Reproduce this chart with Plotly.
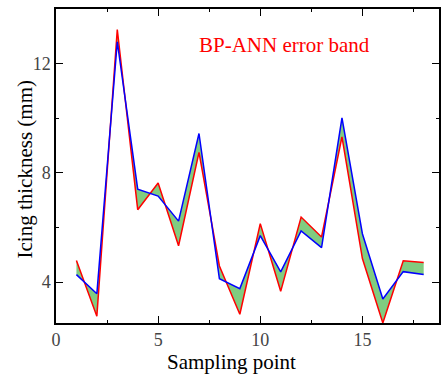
import plotly.graph_objects as go

sampling_points = list(range(1, 19))
measured = [4.79, 2.75, 13.25, 6.65, 7.63, 5.33, 8.75, 4.59, 2.82, 6.14, 3.66, 6.38, 5.65, 9.32, 4.86, 2.5, 4.78, 4.72]
predicted = [4.27, 3.57, 12.8, 7.4, 7.15, 6.23, 9.44, 4.12, 3.76, 5.70, 4.37, 5.87, 5.26, 10.01, 5.77, 3.38, 4.38, 4.28]

x_ticks = [0, 5, 10, 15]
y_ticks = [4, 8, 12]

font_family = "'Liberation Serif', 'Times New Roman', 'DejaVu Serif', serif"

fig = go.Figure()
# error band fill
fig.add_trace(go.Scatter(x=sampling_points, y=measured, mode="lines",
                         line=dict(width=0, color="rgba(0,0,0,0)"), showlegend=False, hoverinfo="skip"))
fig.add_trace(go.Scatter(x=sampling_points, y=predicted, mode="lines", fill="tonexty",
                         fillcolor="rgb(128,204,128)",
                         line=dict(width=0, color="rgba(0,0,0,0)"), showlegend=False, hoverinfo="skip"))
# lines
fig.add_trace(go.Scatter(x=sampling_points, y=measured, mode="lines",
                         line=dict(color="rgb(255,0,0)", width=1.5), showlegend=False))
fig.add_trace(go.Scatter(x=sampling_points, y=predicted, mode="lines",
                         line=dict(color="rgb(0,0,255)", width=1.5), showlegend=False))

fig.add_annotation(x=11.17, y=12.68, xref="x", yref="y", text="BP-ANN error band",
                   showarrow=False, font=dict(family=font_family, size=21, color="rgb(255,0,0)"),
                   xanchor="center", yanchor="middle")

# axis titles placed as annotations
fig.add_annotation(x=-0.08, y=0.49, xref="paper", yref="paper", text="Icing thickness (mm)",
                   showarrow=False, textangle=-90,
                   font=dict(family=font_family, size=21, color="black"),
                   xanchor="center", yanchor="middle")
fig.add_annotation(x=0.457, y=-0.124, xref="paper", yref="paper", text="Sampling point",
                   showarrow=False,
                   font=dict(family=font_family, size=21, color="black"),
                   xanchor="center", yanchor="middle")

axis_common = dict(
    showline=True, linecolor="black", linewidth=1.5, mirror="ticks",
    ticks="inside", ticklen=7, tickwidth=1.2, tickcolor="black",
    showgrid=False, zeroline=False,
    tickfont=dict(family=font_family, size=18, color="#444"),
)

fig.update_xaxes(range=[0, 18.75], tickmode="array", tickvals=x_ticks,
                 ticktext=[str(v) for v in x_ticks],
                 minor=dict(ticks="inside", ticklen=3.5, dtick=2.5, tickcolor="black", tickwidth=1),
                 **axis_common)
fig.update_yaxes(range=[2.5, 14.0], tickmode="array", tickvals=y_ticks,
                 ticktext=[str(v) for v in y_ticks],
                 minor=dict(ticks="inside", ticklen=3.5, dtick=2, tick0=0, tickcolor="black", tickwidth=1),
                 **axis_common)

fig.update_layout(
    width=442, height=377,
    margin=dict(l=56, r=1, t=9, b=54, pad=0),
    plot_bgcolor="white", paper_bgcolor="white",
    showlegend=False,
    font=dict(family=font_family),
)

fig.write_html("out.html")
